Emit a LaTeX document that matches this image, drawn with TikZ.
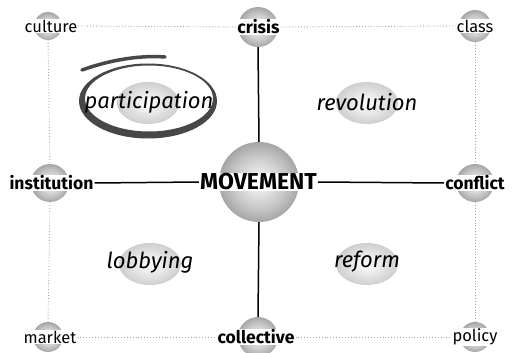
\documentclass[tikz,border=0pt]{standalone}
\usepackage{fontspec}
\setmainfont{Fira Sans}
\usetikzlibrary{shapes.geometric}
\pgfdeclareradialshading{sphshade}{\pgfpoint{0bp}{0bp}}{color(0bp)=(white); color(7bp)=(gray!20); color(17bp)=(gray!45); color(25bp)=(gray!70); color(50bp)=(gray!70)}
\begin{document}
\begin{tikzpicture}[x=1pt,y=-1pt,
  sph/.style={circle, shading=sphshade, inner sep=0pt, minimum size=#1},
  sph/.default=30pt,
  lbl/.style={fill=white, inner sep=1pt, font=\fontsize{16.5}{18}\selectfont},
  blbl/.style={fill=white, inner sep=1pt, font=\fontsize{17.5}{20}\selectfont\bfseries},
  qell/.style={ellipse, inner sep=0pt, shading=radial, inner color=white, outer color=gray!38, minimum width=62pt, minimum height=42pt},
  qlbl/.style={font=\fontsize{22}{24}\selectfont\itshape},
  dotline/.style={gray!70, dotted, line width=0.9pt},
  solidline/.style={black, line width=1.5pt},
  brush/.style={fill=black!72}
]
\useasboundingbox (0,0) rectangle (515,353);
% spheres
\node[sph=28pt] (sculture) at (48,26) {};
\node[sph=40pt] (scrisis) at (258,27) {};
\node[sph=32pt] (sclass) at (475,26) {};
\node[sph=38pt] (sinst) at (50,183) {};
\node[sph=80pt] (smove) at (259,182) {};
\node[sph=38pt] (sconf) at (475,183) {};
\node[sph=30pt] (smarket) at (48,337) {};
\node[sph=40pt] (scoll) at (258,337) {};
\node[sph=30pt] (spolicy) at (475,337) {};
% quadrant ellipses
\node[qell] (eparticip) at (148,103) {};
\node[qell] (erevol) at (367,103) {};
\node[qell] (elobby) at (150,264) {};
\node[qell] (ereform) at (367,264) {};
% brush circle
\fill[brush, even odd rule] (148,101) ellipse [x radius=69, y radius=37.5]
  (149,98.5) ellipse [x radius=64, y radius=33];
\draw[black!72, line width=3.5pt, line cap=round] (82,70) .. controls (110,60) and (140,55) .. (165,57);
% labels
\node[lbl] (culture) at (51,26) {culture};
\node[blbl] (crisis) at (258.5,27) {crisis};
\node[lbl] (class) at (475,26) {class};
\node[blbl] (institution) at (51.5,183) {institution};
\node[fill=white, inner sep=1pt, font=\fontsize{23}{26}\selectfont\bfseries] (movement) at (258.5,182) {MOVEMENT};
\node[blbl] (conflict) at (475,183) {conflict};
\node[lbl] (market) at (50,337) {market};
\node[blbl] (collective) at (256,337) {collective};
\node[lbl] (policy) at (475,337) {policy};
\node[qlbl] (participation) at (149,102) {participation};
\node[qlbl] (revolution) at (367,102) {revolution};
\node[qlbl] (lobbying) at (150,262) {lobbying};
\node[qlbl] (reform) at (367,262) {reform};
% connectors
\draw[dotline] (culture.east) -- (crisis.west);
\draw[dotline] (crisis.east) -- (class.west);
\draw[dotline] (market.east) -- (collective.west);
\draw[dotline] (collective.east) -- (policy.west);
\draw[dotline] (sculture.south) -- (sinst.north);
\draw[dotline] (sinst.south) -- (smarket.north);
\draw[dotline] (sclass.south) -- (sconf.north);
\draw[dotline] (sconf.south) -- (spolicy.north);
\draw[solidline] (institution.east) -- (movement.west);
\draw[solidline] (movement.east) -- (conflict.west);
\draw[solidline] (scrisis.south) -- (smove.north);
\draw[solidline] (smove.south) -- (scoll.north);
\end{tikzpicture}
\end{document}
